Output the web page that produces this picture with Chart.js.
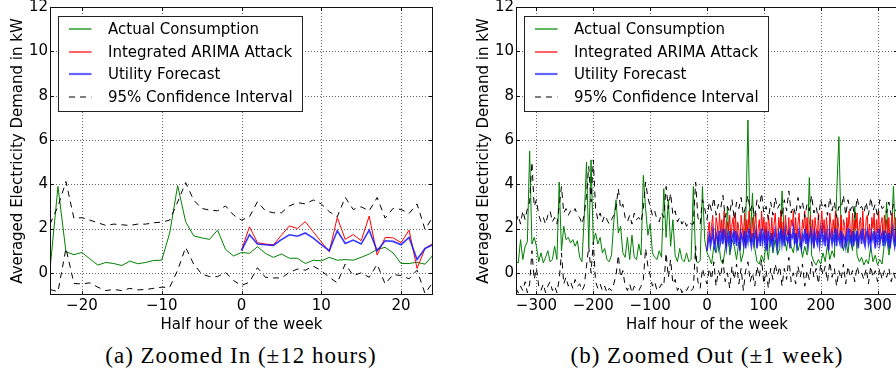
<!DOCTYPE html>
<html>
<head>
<meta charset="utf-8">
<script src="https://cdn.jsdelivr.net/npm/chart.js@4.4.1/dist/chart.umd.min.js"></script>
<style>
  html, body { margin:0; padding:0; background:#fff; }
  body { width:896px; height:381px; overflow:hidden; position:relative; }
  .panel { position:absolute; top:0; height:340px; }
  .cap { position:absolute; top:342px; width:400px; text-align:center; font-family:"Liberation Serif", serif; font-size:23px; line-height:28px; letter-spacing:1px; color:#000; }
</style>
</head>
<body>
<div class="panel" style="left:0;width:440px"><canvas id="c1" width="440" height="340"></canvas></div>
<div class="panel" style="left:440px;width:470px"><canvas id="c2" width="470" height="340"></canvas></div>
<div class="cap" style="left:41px">(a) Zoomed In (±12 hours)</div>
<div class="cap" style="left:507px">(b) Zoomed Out (±1 week)</div>
<script>
// ---------- categories / ticks ----------
const narrowHalfHours = Array.from({length: 49}, (_, i) => i - 24);        // -24 .. 24
const narrowForecastHalfHours = Array.from({length: 25}, (_, i) => i);     // 0 .. 24
const wideHalfHours = Array.from({length: 169}, (_, i) => i * 4 - 336);   // -336 .. 336, every 4th half hour
const wideForecastHalfHours = Array.from({length: 169}, (_, i) => i * 2); // 0 .. 336, every 2nd half hour
const narrowXTicks = [-20, -10, 0, 10, 20];
const wideXTicks = [-300, -200, -100, 0, 100, 200, 300];
const yTicks = [0, 2, 4, 6, 8, 10, 12];

const legendLabels = ["Actual Consumption", "Integrated ARIMA Attack", "Utility Forecast", "95% Confidence Interval"];

// ---------- (a) zoomed in : -24 .. 24 ----------
const actualNarrow = [0.15, 3.9, 0.95, 0.82, 0.92, 0.63, 0.35, 0.47, 0.42, 0.33, 0.53, 0.41, 0.47, 0.56, 0.57, 1.8, 3.94, 2.31, 1.67, 1.58, 1.51, 1.93, 1.06, 0.76,
  0.92, 0.88, 1.18, 0.88, 0.70, 0.85, 0.66, 0.66, 0.42, 0.57, 0.54, 0.70, 0.57, 0.6, 0.57, 0.70, 0.85, 1.06, 1.15, 0.9, 0.42, 0.42, 0.48, 0.39, 0.8];
const upperNarrow = [2.2, 3.0, 4.12, 2.46, 2.49, 2.38, 2.26, 2.14, 2.2, 2.17, 2.14, 2.2, 2.2, 2.26, 2.29, 2.38, 3.2, 4.07, 3.29, 2.91, 2.83, 2.8, 3.02, 2.61,
  2.38, 2.53, 3.21, 2.8, 2.71, 2.71, 3.02, 3.17, 3.11, 3.29, 3.11, 2.76, 2.53, 3.41, 2.86, 2.98, 2.8, 3.4, 2.47, 2.91, 2.86, 2.68, 3.11, 1.96, 2.53];
const lowerNarrow = [-0.75, -0.85, 1.1, -0.48, -0.5, -0.45, -0.65, -0.8, -0.75, -0.8, -0.7, -0.77, -0.75, -0.7, -0.65, -0.65, 0.12, 1.15, 0.4, -0.05, -0.17, -0.17, 0.02, -0.35,
  -0.57, -0.42, 0.23, -0.2, -0.23, -0.23, 0.02, 0.17, 0.12, 0.3, 0.1, -0.2, -0.45, 0.4, -0.12, 0, -0.2, 0.38, -0.5, -0.08, -0.12, -0.27, 0.12, -0.93, -0.42];
const attackNarrow = [1.03, 2.08, 1.36, 1.3, 1.26, 1.7, 2.12, 2.0, 2.31, 1.85, 1.4, 0.95, 2.5, 1.51, 1.73, 1.45, 2.56, 0.8, 1.6, 1.58, 1.36, 1.93, 0.2, 1.1, 1.33];
const forecastNarrow = [1.0, 1.72, 1.3, 1.27, 1.24, 1.5, 1.72, 1.65, 1.8, 1.57, 1.27, 1.0, 1.9, 1.33, 1.48, 1.3, 1.93, 1.0, 1.45, 1.42, 1.27, 1.6, 0.6, 1.1, 1.27];

// ---------- (b) zoomed out : -336 .. 336 ----------
const actualWide = [
  0.5, 0.45, 1.5, 0.6, 1.2, 1.4, 5.5, 1.3, 1.6, 1.2,
  0.5, 0.9, 0.45, 0.7, 1.0, 0.5, 0.6, 1.2, 0.6, 4.1,
  1.0, 2.1, 1.5, 1.6, 1.35, 1.5, 1.2, 1.45, 0.7, 0.5,
  2.5, 5.0, 1.2, 5.1, 1.4, 1.8, 1.3, 1.6, 0.9, 1.1,
  0.6, 0.5, 0.8, 2.3, 3.3, 1.8, 2.1, 0.9, 0.7, 1.6,
  0.6, 1.7, 0.7, 0.6, 1.3, 0.8, 4.4, 2.9, 1.7, 2.2,
  0.9, 0.7, 0.6, 1.0, 0.7, 3.8, 1.6, 3.3, 1.2, 2.4,
  0.8, 0.5, 1.1, 0.6, 0.5, 0.9, 0.5, 0.6, 3.9, 0.6,
  0.45, 0.55, 3.9, 1.5,
  0.9, 0.7, 0.4, 1.2, 0.9, 1.6, 0.6, 0.4, 1.1, 3.0,
  0.8, 1.5, 1.2, 0.6, 1.4, 0.5, 0.9, 2.1, 6.9, 1.4,
  3.6, 1.1, 0.5, 0.4, 0.8, 0.5, 1.3, 0.6, 1.8, 0.9,
  1.5, 0.8, 1.1, 3.7, 1.6, 1.0, 1.9, 1.2, 0.9, 1.7,
  1.0, 1.4, 0.7, 1.2, 0.8, 4.3, 0.8, 0.5, 0.35, 0.6,
  0.4, 0.9, 0.5, 1.3, 0.6, 1.0, 0.7, 3.5, 6.15, 1.8,
  1.0, 1.5, 0.9, 1.7, 1.0, 3.0, 0.8, 0.5, 0.7, 0.35,
  0.6, 0.4, 1.2, 0.5, 0.8, 0.35, 0.6, 0.4, 1.3, 3.2,
  0.8, 1.5, 3.9, 1.2, 2.0];
const upperWide = [
  2.3, 2.6, 2.2, 2.8, 2.4, 2.9, 3.2, 5.0, 3.0, 3.3,
  2.6, 2.3, 2.5, 2.2, 2.6, 2.8, 2.3, 2.5, 2.2, 3.0,
  3.9, 2.7, 2.9, 2.6, 2.8, 2.7, 2.9, 2.6, 2.5, 2.2,
  2.6, 3.5, 4.8, 3.2, 5.1, 2.9, 2.4, 2.7, 2.3, 2.6,
  2.4, 2.2, 2.4, 2.6, 3.0, 3.8, 2.9, 3.1, 2.5, 2.3,
  2.6, 2.2, 2.7, 2.4, 2.5, 2.3, 2.9, 4.1, 3.4, 3.0,
  2.6, 2.8, 2.4, 2.3, 2.7, 2.5, 3.9, 2.9, 3.6, 2.6,
  2.8, 2.3, 2.5, 2.2, 2.4, 2.1, 2.3, 2.2, 2.2, 4.1,
  2.5, 2.2, 3.3, 2.9,
  2.4, 3.2, 2.8, 3.4, 2.6, 3.1, 2.9, 3.5, 2.5, 3.0,
  2.7, 3.3, 2.4, 3.2, 2.9, 3.4, 2.6, 3.0, 3.5, 2.8,
  3.1, 2.5, 3.3, 2.9, 3.6, 2.7, 3.0, 2.4, 3.2, 2.6,
  3.4, 2.9, 3.1, 2.5, 3.3, 2.8, 3.7, 2.7, 3.0, 2.6,
  3.4, 2.9, 3.2, 2.5, 3.1, 2.8, 3.5, 2.7, 3.0, 2.4,
  3.3, 2.9, 3.1, 2.6, 3.4, 2.8, 3.2, 2.5, 3.0, 2.9,
  3.5, 2.6, 3.3, 2.8, 3.1, 2.5, 3.4, 2.9, 3.0, 2.7,
  3.2, 2.6, 3.4, 2.8, 3.1, 2.5, 3.3, 2.9, 3.0, 2.7,
  3.2, 2.6, 3.1, 2.8, 3.0];
const lowerWide = [
  -0.7, -0.9, -0.6, -0.8, -0.4, -0.9, -0.5, 1.0, -0.3, 0.2,
  -0.6, -0.8, -0.5, -0.9, -0.6, -0.4, -0.8, -0.6, -0.9, -0.3,
  0.9, -0.5, -0.2, -0.6, -0.4, -0.7, -0.3, -0.6, -0.5, -0.8,
  -0.6, 0.3, 1.2, 0.0, 1.4, -0.4, -0.7, -0.5, -0.8, -0.6,
  -0.9, -0.7, -0.8, -0.5, -0.1, 0.8, -0.2, 0.1, -0.6, -0.8,
  -0.5, -0.9, -0.6, -0.7, -0.8, -0.6, -0.3, 1.1, 0.3, -0.1,
  -0.6, -0.4, -0.8, -0.7, -0.5, -0.6, 0.9, -0.2, 0.6, -0.5,
  -0.3, -0.8, -0.6, -0.9, -0.7, -0.8, -0.6, -0.8, -0.7, 1.2,
  -0.4, -0.7, 0.2, -0.2,
  -0.5, 0.2, -0.3, 0.5, -0.6, 0.1, -0.2, 0.6, -0.4, 0.0,
  -0.7, 0.3, -0.3, 0.4, -0.5, 0.2, -0.8, 0.1, 0.5, -0.4,
  0.0, -0.6, 0.3, -0.2, 0.6, -0.5, 0.1, -0.7, 0.2, -0.3,
  0.4, -0.1, 0.3, -0.6, 0.2, -0.3, 0.7, -0.4, 0.0, -0.5,
  0.3, -0.2, 0.4, -0.6, 0.1, -0.3, 0.5, -0.2, 0.2, -0.5,
  0.4, -0.1, 0.3, -0.4, 0.5, -0.2, 0.2, -0.6, 0.1, -0.3,
  0.4, -0.5, 0.3, -0.2, 0.1, -0.4, 0.3, -0.1, 0.0, -0.3,
  0.2, -0.5, 0.3, -0.2, 0.1, -0.4, 0.2, -0.3, 0.1, -0.2,
  0.2, -0.4, 0.0, -0.3, 0.1];
// half hours 0 .. 336, every 2nd
const forecastWide = [
  1.0, 1.4, 1.7, 1.2, 1.5, 1.9, 1.3, 1.1, 1.8, 1.6, 1.2, 1.9, 1.4,
  1.8, 1.3, 2.0, 1.5, 1.1, 1.7, 1.4, 1.9, 1.2, 1.6, 1.8, 1.3, 1.9,
  1.2, 1.7, 1.5, 1.0, 1.8, 1.6, 1.3, 1.9, 1.1, 1.7, 1.4, 2.0, 1.5,
  1.2, 1.8, 1.3, 1.6, 1.9, 1.1, 1.5, 1.7, 1.2, 2.0, 1.4, 1.8, 1.3,
  1.7, 1.0, 1.9, 1.5, 1.3, 1.8, 1.2, 1.6, 1.9, 1.4, 1.1, 1.8, 1.5,
  2.0, 1.3, 1.7, 1.2, 1.9, 1.5, 1.4, 1.8, 1.1, 1.7, 1.6, 2.0, 1.3,
  1.8, 1.2, 1.6, 1.9, 1.4, 1.1, 1.7, 1.5, 2.0, 1.3, 1.8, 1.2, 1.6,
  1.9, 1.4, 1.7, 1.1, 1.8, 1.5, 1.3, 1.9, 1.2, 1.6, 2.0, 1.4, 1.7,
  1.2, 1.8, 1.5, 1.0, 1.9, 1.6, 1.3, 1.7, 1.4, 2.0, 1.2, 1.8, 1.5,
  1.3, 1.9, 1.1, 1.7, 1.6, 1.2, 1.8, 1.4, 2.0, 1.5, 1.3, 1.9, 1.2,
  1.7, 1.5, 1.9, 1.1, 1.6, 1.8, 1.3, 2.0, 1.4, 1.2, 1.7, 1.9, 1.3,
  1.6, 1.2, 1.8, 1.5, 1.9, 1.1, 1.7, 1.4, 2.0, 1.3, 1.6, 1.8, 1.2,
  1.9, 1.4, 1.7, 1.3, 1.8, 1.1, 1.6, 2.0, 1.5, 1.2, 1.8, 1.4, 1.3];
const attackWide = [
  1.0, 1.9, 2.3, 1.4, 2.1, 2.6, 1.6, 1.3, 2.5, 2.2, 1.4, 2.7, 1.8,
  2.4, 1.5, 2.8, 2.0, 1.2, 2.3, 1.9, 2.6, 1.4, 2.2, 2.5, 1.6, 2.7,
  1.4, 2.3, 2.0, 1.1, 2.6, 2.1, 1.5, 2.7, 1.2, 2.4, 1.8, 2.8, 2.0,
  1.4, 2.5, 1.6, 2.2, 2.7, 1.2, 2.0, 2.4, 1.4, 2.8, 1.9, 2.5, 1.5,
  2.3, 1.1, 2.6, 2.1, 1.5, 2.5, 1.4, 2.2, 2.7, 1.8, 1.2, 2.5, 2.0,
  2.8, 1.5, 2.3, 1.4, 2.6, 2.0, 1.7, 2.5, 1.2, 2.4, 2.1, 2.8, 1.5,
  2.5, 1.4, 2.2, 2.7, 1.8, 1.2, 2.4, 2.0, 2.8, 1.5, 2.5, 1.4, 2.2,
  2.6, 1.7, 2.4, 1.2, 2.5, 2.0, 1.5, 2.7, 1.4, 2.2, 2.8, 1.8, 2.4,
  1.4, 2.5, 2.0, 1.1, 2.7, 2.2, 1.5, 2.4, 1.8, 2.8, 1.4, 2.5, 2.0,
  1.5, 2.6, 1.2, 2.4, 2.2, 1.4, 2.5, 1.8, 2.8, 2.0, 1.5, 2.7, 1.4,
  2.4, 2.0, 2.7, 1.2, 2.2, 2.5, 1.5, 2.8, 1.8, 1.4, 2.4, 2.6, 1.5,
  2.2, 1.4, 2.5, 2.0, 2.7, 1.2, 2.4, 1.8, 2.8, 1.5, 2.2, 2.5, 1.4,
  2.6, 1.8, 2.4, 1.5, 2.5, 1.2, 2.2, 2.7, 2.0, 1.4, 2.5, 1.9, 1.6];

// ---------- styles ----------
const GREEN = '#008000', RED = '#ff0000', BLUE = 'rgba(20,20,255,0.85)', BLACK = '#000';
const FONT = "'DejaVu Sans', sans-serif";

function pts(xs, ys) {
  return ys.map((y, i) => ({x: xs[i], y: y}));
}
function fmt(v) { return v < 0 ? '\u2212' + Math.abs(v) : String(v); }

const decor = {
  id: 'decor',
  beforeDatasetsDraw(chart, args, o) {
    const {ctx, chartArea: a, scales: {x, y}} = chart;
    ctx.save();
    ctx.strokeStyle = 'rgba(0,0,0,0.6)';
    ctx.lineWidth = 1;
    ctx.setLineDash([1, 2]);
    o.xticks.forEach(v => {
      const px = Math.round(x.getPixelForValue(v)) + 0.5;
      ctx.beginPath(); ctx.moveTo(px, a.top); ctx.lineTo(px, a.bottom); ctx.stroke();
    });
    yTicks.forEach(v => {
      if (v >= 12) return;
      const py = Math.round(y.getPixelForValue(v)) + 0.5;
      ctx.beginPath(); ctx.moveTo(a.left, py); ctx.lineTo(a.right, py); ctx.stroke();
    });
    ctx.restore();
  },
  afterDatasetsDraw(chart, args, o) {
    const {ctx, chartArea: a, scales: {x, y}} = chart;
    ctx.save();
    ctx.setLineDash([]);
    ctx.globalAlpha = 1;
    ctx.strokeStyle = '#111';
    ctx.lineWidth = 1;
    // tick marks (inward, all four sides)
    o.xticks.forEach(v => {
      const px = Math.round(x.getPixelForValue(v)) + 0.5;
      ctx.beginPath();
      ctx.moveTo(px, a.bottom); ctx.lineTo(px, a.bottom - 4);
      ctx.moveTo(px, a.top); ctx.lineTo(px, a.top + 4);
      ctx.stroke();
    });
    yTicks.forEach(v => {
      const py = Math.round(y.getPixelForValue(v)) + 0.5;
      ctx.beginPath();
      ctx.moveTo(a.left, py); ctx.lineTo(a.left + 4, py);
      ctx.moveTo(a.right, py); ctx.lineTo(a.right - 4, py);
      ctx.stroke();
    });
    ctx.strokeRect(a.left + 0.5, a.top + 0.5, a.right - a.left - 1, a.bottom - a.top - 1);
    // legend
    const bx = Math.round(a.left + 8) + 0.5, by = 16.5, bw = 244, bh = 95;
    ctx.fillStyle = '#fff';
    ctx.fillRect(bx, by, bw, bh);
    ctx.strokeStyle = '#222';
    ctx.strokeRect(bx, by, bw, bh);
    const styles = [
      {c: '#1a9a1a', w: 1.4, d: []},
      {c: '#ff2020', w: 1.4, d: []},
      {c: 'rgba(60,60,255,0.8)', w: 2.2, d: []},
      {c: BLACK, w: 1.2, d: [6, 5]}
    ];
    ctx.font = '15px ' + FONT;
    ctx.textBaseline = 'middle';
    ctx.textAlign = 'left';
    legendLabels.forEach((lab, i) => {
      const ry = Math.round(by + 12.5 + i * 22.5);
      const s = styles[i];
      ctx.strokeStyle = s.c; ctx.lineWidth = s.w; ctx.setLineDash(s.d);
      ctx.beginPath(); ctx.moveTo(bx + 10.5, ry); ctx.lineTo(bx + 33, ry); ctx.stroke();
      ctx.setLineDash([]);
      ctx.fillStyle = '#000';
      ctx.fillText(lab, bx + 49.5, ry + 1);
    });
    ctx.restore();
  }
};

function makeChart(id, xs, fxs, actual, upper, lower, attack, forecast, xmin, xmax, xticks, yAxisW, yTitlePad, padRight) {
  const dashed = {borderColor: BLACK, borderWidth: 1, borderDash: [6, 5], pointRadius: 0, fill: false, tension: 0};
  return new Chart(document.getElementById(id), {
    type: 'line',
    data: {
      datasets: [
        Object.assign({label: 'upper', data: pts(xs, upper)}, dashed),
        Object.assign({label: 'lower', data: pts(xs, lower)}, dashed),
        {label: legendLabels[2], data: pts(fxs, forecast), borderColor: BLUE, borderWidth: 1.6, pointRadius: 0, fill: false, tension: 0},
        {label: legendLabels[1], data: pts(fxs, attack), borderColor: RED, borderWidth: 1, pointRadius: 0, fill: false, tension: 0},
        {label: legendLabels[0], data: pts(xs, actual), borderColor: GREEN, borderWidth: 1, pointRadius: 0, fill: false, tension: 0}
      ]
    },
    options: {
      responsive: false,
      animation: false,
      devicePixelRatio: 1,
      events: [],
      layout: {padding: {top: 7, right: padRight, left: 0, bottom: 0}},
      plugins: {legend: {display: false}, tooltip: {enabled: false}, decor: {xticks: xticks}},
      scales: {
        x: {
          type: 'linear', min: xmin, max: xmax,
          grid: {display: false, drawTicks: false}, border: {display: false},
          afterBuildTicks: s => { s.ticks = xticks.map(v => ({value: v})); },
          afterFit: s => { s.height = 45; s.paddingLeft = 0; s.paddingRight = 0; },
          ticks: {color: '#000', font: {family: FONT, size: 15}, padding: 2, maxRotation: 0, autoSkip: false, callback: v => fmt(v)},
          title: {display: true, text: 'Half hour of the week', color: '#000', font: {family: FONT, size: 15}, padding: {top: 0, bottom: 6}}
        },
        y: {
          type: 'linear', min: -1, max: 12,
          grid: {display: false, drawTicks: false}, border: {display: false},
          afterBuildTicks: s => { s.ticks = yTicks.map(v => ({value: v})); },
          afterFit: s => { s.width = yAxisW; s.paddingTop = 0; s.paddingBottom = 0; },
          ticks: {color: '#000', font: {family: FONT, size: 15}, padding: 2, callback: v => fmt(v)},
          title: {display: true, text: 'Averaged Electricity Demand in kW', color: '#000', font: {family: FONT, size: 15}, padding: {top: yTitlePad, bottom: 0}}
        }
      }
    },
    plugins: [decor]
  });
}

makeChart('c1', narrowHalfHours, narrowForecastHalfHours, actualNarrow, upperNarrow, lowerNarrow, attackNarrow, forecastNarrow, -24, 24, narrowXTicks, 50, 9.5, 7);
makeChart('c2', wideHalfHours, wideForecastHalfHours, actualWide, upperWide, lowerWide, attackWide, forecastWide, -336, 336, wideXTicks, 76, 35, 12);
</script>
</body>
</html>
